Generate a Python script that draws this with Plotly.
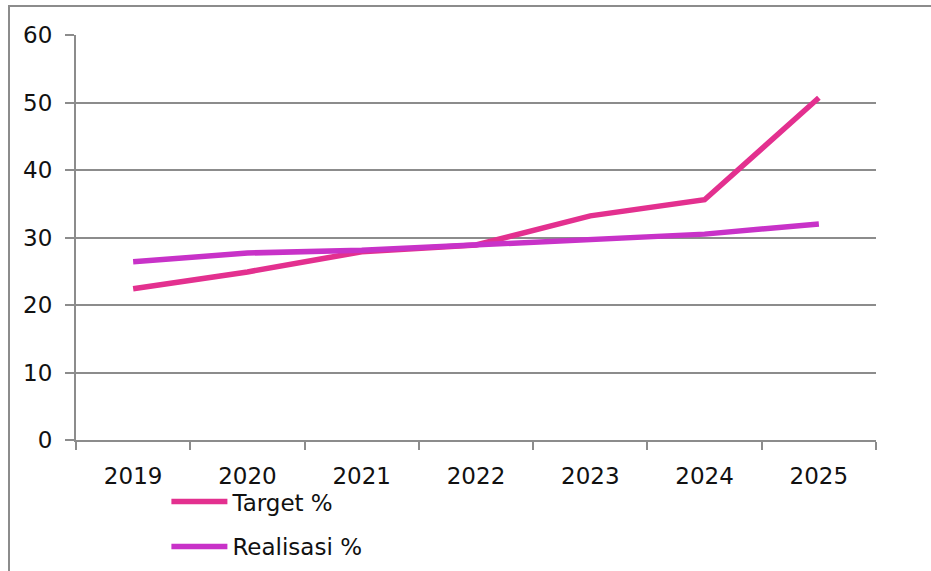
import plotly.graph_objects as go

years = ["2019", "2020", "2021", "2022", "2023", "2024", "2025"]
target = [22.4, 24.9, 27.9, 28.9, 33.2, 35.6, 50.7]
realisasi = [26.4, 27.7, 28.1, 28.9, 29.6, 30.5, 32.0]
y_ticks = [0, 10, 20, 30, 40, 50, 60]

FONT = "DejaVu Sans"
GRID = "#8c8c8c"

fig = go.Figure()
fig.add_trace(go.Scatter(x=years, y=target, mode="lines", name="Target %",
                         line=dict(color="#E3308F", width=5.5), legendgroup="a"))
fig.add_trace(go.Scatter(x=years, y=realisasi, mode="lines", name="Realisasi %",
                         line=dict(color="#C832C8", width=5.5), legendgroup="b"))

fig.update_layout(
    width=931, height=571,
    margin=dict(l=76, r=55, t=35, b=131, autoexpand=False),
    paper_bgcolor="white", plot_bgcolor="white",
    font=dict(family=FONT, size=23, color="#111111"),
    showlegend=True,
    legend=dict(orientation="v", x=0.113, y=-0.099, xanchor="left", yanchor="top",
                font=dict(size=23, family=FONT), tracegroupgap=12, itemwidth=56,
                bgcolor="rgba(0,0,0,0)"),
    xaxis=dict(type="category", range=[-0.5, 6.5], tickson="boundaries",
               showline=True, linecolor=GRID, linewidth=2,
               ticks="outside", ticklen=8, tickcolor=GRID, tickwidth=2,
               showgrid=False, ticklabelstandoff=14),
    yaxis=dict(range=[0, 60], tickvals=y_ticks, showline=True, linecolor=GRID, linewidth=2,
               ticks="outside", ticklen=9, tickcolor=GRID, tickwidth=2,
               showgrid=True, gridcolor=GRID, gridwidth=2, zeroline=False,
               ticklabelstandoff=8),
    shapes=[dict(type="rect", xref="paper", yref="paper",
                 x0=-0.08375, x1=1.2, y0=-0.5, y1=1.0716,
                 line=dict(color=GRID, width=2), fillcolor="rgba(0,0,0,0)", layer="below")],
)

fig.write_html("out.html", config={"displayModeBar": False},
               post_script="document.body.style.margin='0';")
